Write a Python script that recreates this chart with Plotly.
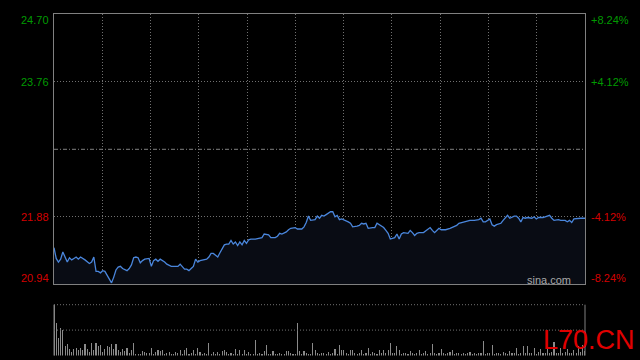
import plotly.graph_objects as go

# ---------------- data ----------------
prev_close = 22.82
price_ticks = [24.70, 23.76, 21.88, 20.94]
pct_ticks = ["+8.24%", "+4.12%", "-4.12%", "-8.24%"]

price_minute = [
    0, 1, 2, 3, 4, 5, 6, 7, 8, 9,
    10, 11, 12, 14, 15, 16, 17, 18, 19, 20,
    21, 22, 23, 24, 25, 26, 27, 28, 29, 30,
    31, 32, 33, 34, 35, 36, 37, 38, 39, 40,
    41, 43, 44, 45, 46, 47, 48, 50, 51, 53,
    54, 56, 57, 58, 59, 60, 61, 62, 63, 64,
    65, 66, 68, 69, 70, 71, 72, 73, 74, 75,
    76, 77, 78, 79, 80, 81, 82, 83, 84, 85,
    86, 87, 88, 89, 91, 92, 94, 95, 96, 97,
    98, 100, 101, 102, 103, 105, 106, 107, 109, 110,
    112, 113, 114, 115, 116, 118, 119, 120, 121, 122,
    123, 125, 126, 127, 128, 129, 130, 131, 133, 134,
    135, 137, 138, 139, 140, 141, 142, 144, 145, 146,
    147, 149, 150, 151, 152, 153, 154, 155, 156, 157,
    158, 160, 161, 162, 163, 164, 165, 167, 168, 170,
    171, 172, 173, 174, 175, 177, 179, 180, 182, 183,
    186, 188, 190, 192, 193, 194, 195, 196, 197, 198,
    199, 200, 202, 203, 204, 205, 206, 208, 209, 210,
    211, 212, 213, 214, 216, 217, 218, 219, 221, 223,
    224, 225, 226, 228, 229, 231, 232, 233, 234, 235,
    237, 238, 240,
]
price_value = [
    21.45, 21.30, 21.25, 21.29, 21.39, 21.32, 21.25, 21.31, 21.28, 21.30,
    21.32, 21.29, 21.32, 21.28, 21.25, 21.23, 21.25, 21.32, 21.12, 21.12,
    21.10, 21.13, 21.12, 21.07, 21.02, 20.96, 21.04, 21.14, 21.18, 21.19,
    21.16, 21.14, 21.13, 21.16, 21.21, 21.31, 21.32, 21.31, 21.24, 21.27,
    21.29, 21.30, 21.19, 21.27, 21.29, 21.26, 21.29, 21.25, 21.22, 21.19,
    21.19, 21.19, 21.22, 21.19, 21.15, 21.15, 21.13, 21.16, 21.19, 21.29,
    21.25, 21.27, 21.28, 21.29, 21.32, 21.37, 21.37, 21.34, 21.32, 21.38,
    21.43, 21.49, 21.50, 21.50, 21.55, 21.50, 21.53, 21.48, 21.53, 21.49,
    21.55, 21.51, 21.56, 21.57, 21.57, 21.58, 21.59, 21.64, 21.64, 21.63,
    21.59, 21.59, 21.61, 21.65, 21.64, 21.67, 21.70, 21.72, 21.73, 21.71,
    21.71, 21.74, 21.80, 21.89, 21.83, 21.84, 21.89, 21.86, 21.90, 21.89,
    21.91, 21.95, 21.95, 21.88, 21.90, 21.84, 21.85, 21.84, 21.81, 21.79,
    21.74, 21.75, 21.76, 21.79, 21.78, 21.79, 21.72, 21.73, 21.73, 21.79,
    21.77, 21.73, 21.69, 21.65, 21.57, 21.58, 21.59, 21.64, 21.57, 21.64,
    21.66, 21.65, 21.69, 21.66, 21.62, 21.65, 21.66, 21.66, 21.68, 21.73,
    21.69, 21.66, 21.69, 21.72, 21.70, 21.70, 21.72, 21.73, 21.76, 21.79,
    21.81, 21.83, 21.83, 21.84, 21.86, 21.81, 21.81, 21.83, 21.85, 21.77,
    21.75, 21.77, 21.79, 21.83, 21.86, 21.90, 21.86, 21.89, 21.89, 21.86,
    21.81, 21.87, 21.86, 21.87, 21.86, 21.88, 21.85, 21.87, 21.87, 21.89,
    21.90, 21.86, 21.83, 21.84, 21.83, 21.83, 21.81, 21.83, 21.80, 21.85,
    21.86, 21.86, 21.86,
]

volume_minute = list(range(241))
volume = [
    100, 64, 34, 55, 51, 18, 22, 13, 7, 13,
    15, 10, 15, 11, 22, 13, 7, 25, 10, 25,
    18, 20, 7, 13, 18, 16, 22, 13, 22, 11,
    7, 13, 8, 15, 5, 10, 24, 3, 3, 3,
    8, 7, 4, 5, 15, 3, 7, 10, 8, 10,
    3, 5, 7, 3, 3, 7, 4, 10, 3, 11,
    15, 3, 5, 10, 3, 15, 7, 3, 5, 3,
    24, 3, 7, 3, 7, 3, 8, 10, 7, 3,
    5, 3, 13, 3, 11, 3, 11, 3, 7, 3,
    3, 30, 3, 5, 3, 8, 20, 3, 3, 8,
    3, 3, 5, 3, 3, 8, 8, 5, 3, 3,
    64, 8, 3, 8, 5, 3, 3, 24, 10, 5,
    3,
    4, 5, 3, 6, 3, 4, 13, 3, 20, 10,
    11, 4, 3, 11, 10, 4, 3, 5, 11, 3,
    4, 15, 3, 7, 4, 3, 11, 5, 11, 4,
    10, 24, 4, 5, 18, 10, 3, 4, 5, 3,
    8, 4, 3, 5, 10, 3, 4, 8, 3, 5,
    22, 4, 3, 5, 13, 4, 3, 4, 6, 11,
    3, 4, 5, 3, 4, 3, 5, 7, 3, 4,
    3, 5, 4, 28, 3, 4, 5, 20, 3, 4,
    5, 3, 7, 4, 3, 8, 4, 5, 15, 3,
    5, 18, 4, 18, 5, 4, 15, 3, 6, 13,
    4, 5, 13, 4, 6, 26, 4, 5, 15, 4,
    6, 13, 4, 5, 10, 4, 18, 6, 20, 8,
]

# ---------------- layout constants ----------------
W, H = 640, 360
X0, X1 = 54 / W, 585 / W
MAIN_Y0, MAIN_Y1 = 1 - 284.3 / H, 1 - 14.3 / H
VOL_Y0, VOL_Y1 = 1 - 355.5 / H, 1 - 304.7 / H
N_MIN = 240
GREEN = "#009a00"
RED = "#d40000"
FRAME = "#808080"
GRID = "#707070"
DOT = "1px,2px"
FONT = "Liberation Sans, Arial, sans-serif"

fig = go.Figure()

fig.add_trace(go.Scatter(
    x=price_minute, y=price_value, mode="lines",
    line=dict(color="#4a86dc", width=1.3),
    fill="tozeroy", fillcolor="#090c14",
    hoverinfo="skip", xaxis="x", yaxis="y",
))

fig.add_trace(go.Bar(
    x=volume_minute, y=volume, width=0.5,
    marker=dict(color="#8a8a8a", line=dict(width=0)),
    hoverinfo="skip", xaxis="x2", yaxis="y2",
))

grid_x = [N_MIN * k / 11 for k in range(1, 11)]

fig.update_layout(
    width=W, height=H,
    margin=dict(l=0, r=0, t=0, b=0),
    paper_bgcolor="black", plot_bgcolor="black",
    showlegend=False, bargap=0,
    font=dict(family=FONT, size=11),
    xaxis=dict(domain=[X0, X1], range=[0, N_MIN], anchor="y",
               showline=True, mirror=True, linecolor=FRAME, linewidth=1,
               tickvals=grid_x, showticklabels=False, ticks="",
               showgrid=True, gridcolor=GRID, griddash=DOT, gridwidth=1,
               zeroline=False),
    yaxis=dict(domain=[MAIN_Y0, MAIN_Y1], range=[price_ticks[-1], price_ticks[0]],
               anchor="x", showline=True, mirror=True, linecolor=FRAME, linewidth=1,
               tickvals=[price_ticks[1], price_ticks[2]], showticklabels=False, ticks="",
               showgrid=True, gridcolor=GRID, griddash=DOT, gridwidth=1,
               zeroline=False),
    xaxis2=dict(domain=[X0, X1], range=[0, N_MIN], anchor="y2",
                showline=False, showticklabels=False, showgrid=False, zeroline=False, ticks=""),
    yaxis2=dict(domain=[VOL_Y0, VOL_Y1], range=[0, max(volume)], anchor="x2",
                showline=False, showticklabels=False, showgrid=False, zeroline=False, ticks=""),
)

shapes = [
    dict(type="line", xref="x", yref="y", x0=0, x1=N_MIN, y0=prev_close, y1=prev_close,
         line=dict(color=FRAME, width=1, dash="4px,2px,1px,2px")),
    dict(type="line", xref="paper", yref="paper", x0=X0, x1=X0, y0=VOL_Y0, y1=VOL_Y1,
         line=dict(color=FRAME, width=1)),
    dict(type="line", xref="paper", yref="paper", x0=X1, x1=X1, y0=VOL_Y0, y1=VOL_Y1,
         line=dict(color=FRAME, width=1)),
    dict(type="line", xref="paper", yref="paper", x0=X0, x1=X1, y0=VOL_Y1, y1=VOL_Y1,
         line=dict(color=GRID, width=1, dash=DOT)),
    dict(type="line", xref="paper", yref="paper", x0=X0, x1=X1,
         y0=(VOL_Y0 + VOL_Y1) / 2, y1=(VOL_Y0 + VOL_Y1) / 2,
         line=dict(color=GRID, width=1, dash=DOT)),
]
fig.update_layout(shapes=shapes)

annotations = []
shifts = [-6, 0, 0, 6]
for val, pct, sh in zip(price_ticks, pct_ticks, shifts):
    col = GREEN if val > prev_close else RED
    annotations.append(dict(x=X0, xref="paper", y=val, yref="y", yshift=sh, xshift=-3,
                            text=f"{val:.2f}", showarrow=False, xanchor="right", yanchor="middle",
                            font=dict(color=col, size=11, family=FONT)))
    annotations.append(dict(x=X1, xref="paper", y=val, yref="y", yshift=sh, xshift=4,
                            text=pct, showarrow=False, xanchor="left", yanchor="middle",
                            font=dict(color=col, size=11, family=FONT)))

annotations.append(dict(x=573 / W, xref="paper", y=1 - 279.5 / H, yref="paper",
                        text="sina.com", showarrow=False, xanchor="right", yanchor="middle",
                        font=dict(color="#a8a8a8", size=11, family=FONT)))
annotations.append(dict(x=637 / W, xref="paper", y=1 - 340 / H, yref="paper",
                        text="L70.CN", showarrow=False, xanchor="right", yanchor="middle",
                        font=dict(color="#e00000", size=27, family=FONT)))
fig.update_layout(annotations=annotations)

fig.write_html(
    "out.html",
    config={"displayModeBar": False, "staticPlot": True},
    post_script="document.body.style.margin='0';document.body.style.padding='0';"
                "document.body.style.overflow='hidden';document.body.style.background='black';",
)
